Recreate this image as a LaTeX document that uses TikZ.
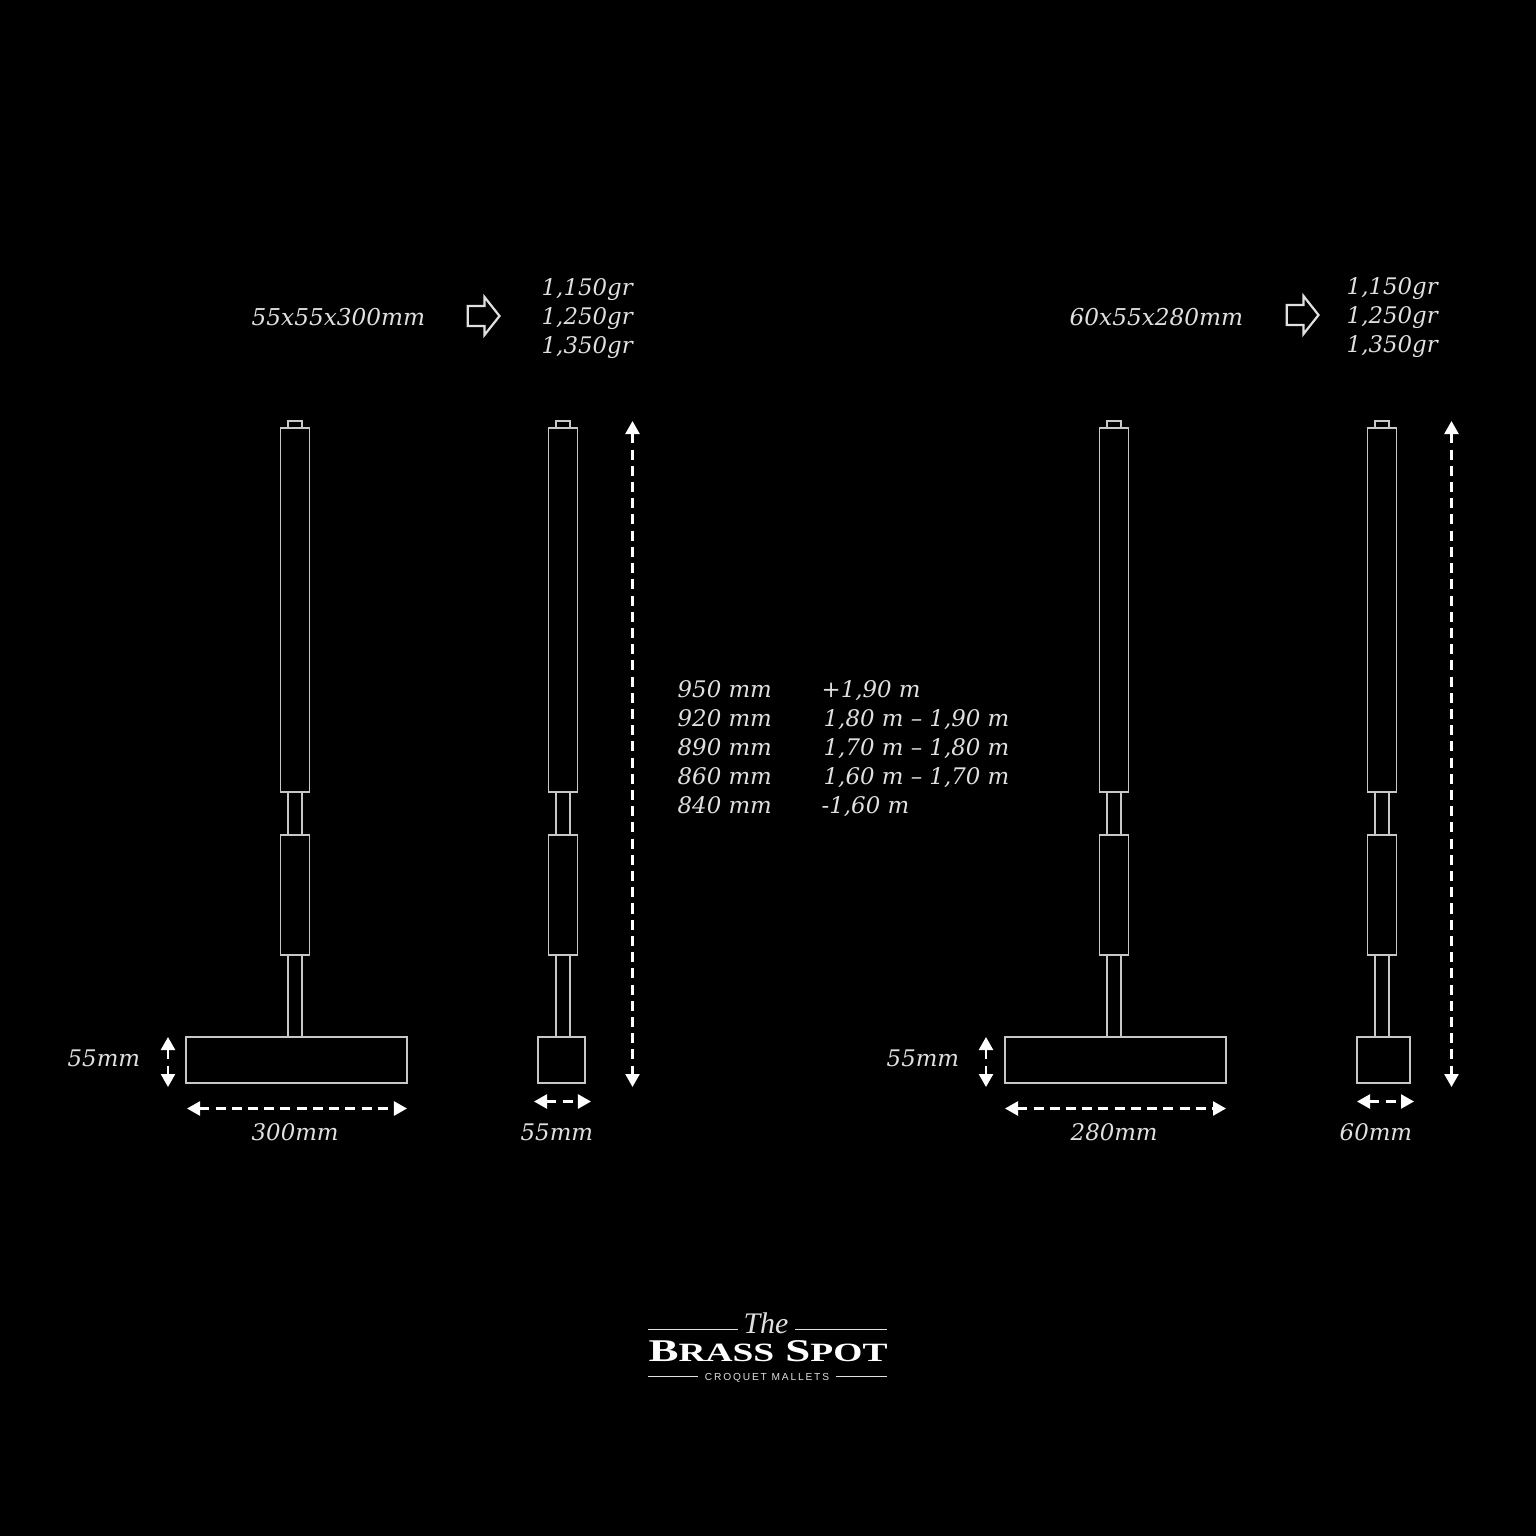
\documentclass[tikz,border=0pt]{standalone}
\usepackage{fontspec}
\setmainfont{DejaVu Serif}
\newfontfamily\logofont[FakeStretch=1.42]{Liberation Serif}
\newfontfamily\thefont{Liberation Serif}
\newfontfamily\subfont[LetterSpace=18]{Liberation Sans}
\usetikzlibrary{arrows.meta}
\definecolor{ln}{gray}{0.78}
\definecolor{tx}{gray}{0.88}
\tikzset{
  x=0.01cm,y=-0.01cm,
  part/.style={draw=ln,line width=0.014cm},
  dim/.style={draw=white,line width=0.024cm,dash pattern=on 0.1cm off 0.062cm,{Triangle[width=0.14cm,length=0.13cm]}-{Triangle[width=0.14cm,length=0.13cm]}},
  blockarrow/.style={draw=tx,line width=0.022cm,line join=miter},
  lbl/.style={text=tx,anchor=base west,inner sep=0pt,font=\fontsize{6.5pt}{6.5pt}\selectfont\itshape},
  wide/.style={lbl,font=\fontsize{6.6pt}{6.6pt}\selectfont\itshape},
  rulew/.style={draw=tx,line width=0.014cm},
}
\newcommand{\mallet}[4]{% #1 name, #2 shaft centre x, #3 head left, #4 head right
  \draw[part] (#2-7,428) -- (#2-7,421) -- (#2+7,421) -- (#2+7,428);
  \draw[part] (#2-14.5,428) rectangle (#2+14.5,792);
  \draw[part] (#2-7,792) -- (#2-7,835) (#2+7,792) -- (#2+7,835);
  \draw[part] (#2-14.5,835) rectangle (#2+14.5,955);
  \draw[part] (#2-7,955) -- (#2-7,1037) (#2+7,955) -- (#2+7,1037);
  \draw[part] (#3,1037) rectangle (#4,1083);
}
\begin{document}
\begin{tikzpicture}
\fill[black] (0,0) rectangle (1536,1536);
\useasboundingbox (0,0) rectangle (1536,1536);
\mallet{a}{295}{186}{407}
\mallet{b}{563}{538}{585}
\mallet{c}{1114}{1005}{1226}
\mallet{d}{1382}{1357}{1410}
% block arrows
\draw[blockarrow] (467.7,306) -- (484.5,306) -- (484.5,297) -- (499.5,316) -- (484.5,335) -- (484.5,326) -- (467.7,326) -- cycle;
\draw[blockarrow] (1286.7,305) -- (1303.5,305) -- (1303.5,296) -- (1318.5,315) -- (1303.5,334) -- (1303.5,325) -- (1286.7,325) -- cycle;
% dimension end points
\coordinate (v1a) at (168,1037); \coordinate (v1b) at (168,1087);
\coordinate (h1a) at (187,1108.5); \coordinate (h1b) at (407,1108.5);
\coordinate (h2a) at (534,1101.5); \coordinate (h2b) at (591,1101.5);
\coordinate (l1a) at (632.5,421); \coordinate (l1b) at (632.5,1087);
\coordinate (v2a) at (986,1037); \coordinate (v2b) at (986,1087);
\coordinate (h3a) at (1005,1108.5); \coordinate (h3b) at (1226,1108.5);
\coordinate (h4a) at (1357,1101.5); \coordinate (h4b) at (1414,1101.5);
\coordinate (l2a) at (1451.5,421); \coordinate (l2b) at (1451.5,1087);
\foreach \p in {v1,h1,h2,l1,v2,h3,h4,l2} \draw[dim] (\p a) -- (\p b);
% labels
\node[wide] (t1) at (251,325) {55x55x300mm};
\node[lbl] (t2) at (541,295) {1,150gr};
\node[lbl] (t3) at (541,324) {1,250gr};
\node[lbl] (t4) at (541,353) {1,350gr};
\node[wide] (t5) at (1069,325) {60x55x280mm};
\node[lbl] (t6) at (1346,294) {1,150gr};
\node[lbl] (t7) at (1346,323) {1,250gr};
\node[lbl] (t8) at (1346,352) {1,350gr};
\node[lbl] (r1) at (677,697) {950 mm};
\node[lbl] (r2) at (677,726) {920 mm};
\node[lbl] (r3) at (677,755) {890 mm};
\node[lbl] (r4) at (677,784) {860 mm};
\node[lbl] (r5) at (677,813) {840 mm};
\node[lbl] (s1) at (821,697) {+1,90 m};
\node[lbl] (s2) at (823,726) {1,80 m – 1,90 m};
\node[lbl] (s3) at (823,755) {1,70 m – 1,80 m};
\node[lbl] (s4) at (823,784) {1,60 m – 1,70 m};
\node[lbl] (s5) at (821,813) {-1,60 m};
\node[lbl] (d1) at (67,1066) {55mm};
\node[lbl] (d2) at (251,1140) {300mm};
\node[lbl] (d3) at (520,1140) {55mm};
\node[lbl] (d4) at (886,1066) {55mm};
\node[lbl] (d5) at (1070,1140) {280mm};
\node[lbl] (d6) at (1339,1140) {60mm};
% logo
\draw[rulew] (648,1329.5) -- (738,1329.5) (795,1329.5) -- (887,1329.5);
\draw[rulew] (648,1376.5) -- (698,1376.5) (836,1376.5) -- (887,1376.5);
\node[anchor=base,inner sep=0pt,text=tx,font=\thefont\itshape\fontsize{8.5pt}{8.5pt}\selectfont] (lg1) at (766,1333) {The};
\node[anchor=base,inner sep=0pt,text=white,font=\logofont\bfseries\fontsize{9pt}{9pt}\selectfont] (lg2) at (768,1361) {B{\fontsize{7.5pt}{7.5pt}\selectfont RASS} S{\fontsize{7.5pt}{7.5pt}\selectfont POT}};
\node[anchor=base,inner sep=0pt,text=tx,font=\subfont\fontsize{2.9pt}{2.9pt}\selectfont] (lg3) at (767,1380) {CROQUET MALLETS};
\end{tikzpicture}
\end{document}
